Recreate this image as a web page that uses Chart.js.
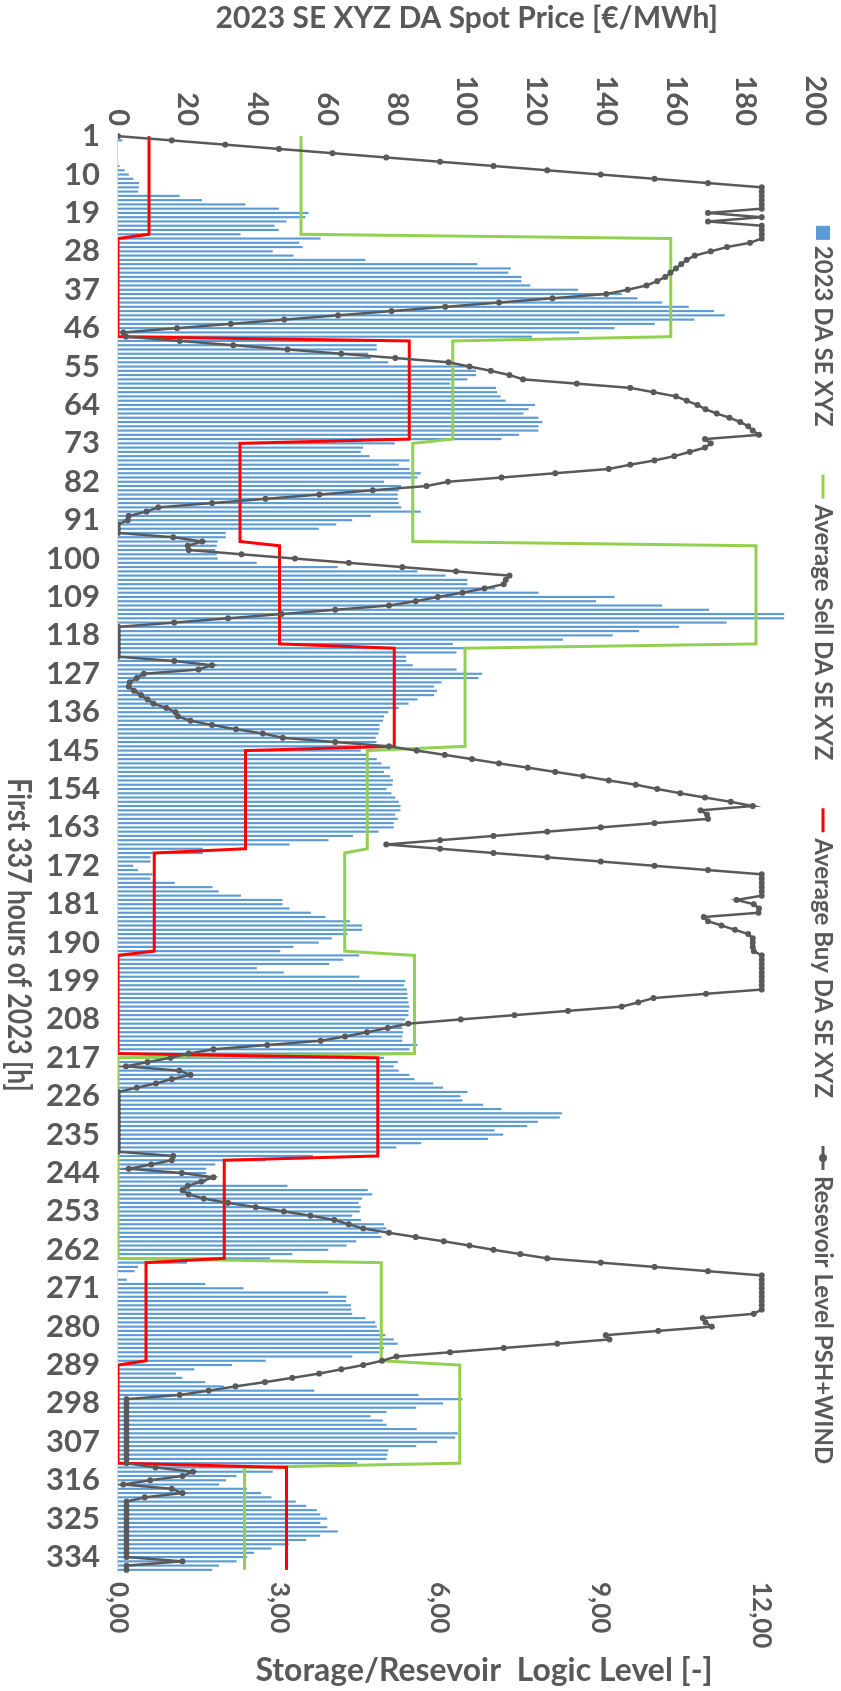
<!DOCTYPE html>
<html>
<head>
<meta charset="utf-8">
<title>2023 SE XYZ DA spot price and reservoir level</title>
<script src="https://cdn.jsdelivr.net/npm/chart.js@4.4.1/dist/chart.umd.min.js"></script>
<style>
  html, body { margin: 0; padding: 0; background: #fff; overflow: hidden; width: 841px; height: 1691px; }
  /* the chart is laid out landscape and turned a quarter clockwise */
  #wrap { position: absolute; left: 0; top: 0; width: 1691px; height: 841px;
          transform-origin: 0 0; transform: translate(841px, 0) rotate(90deg); }
</style>
</head>
<body>
<div id="wrap"><canvas id="chart" width="1691" height="841"></canvas></div>
<script>
const hours = [];
for (let i = 1; i <= 337; i++) hours.push(String(i));

// hourly DA spot price, EUR/MWh
const spotPrice = [
  0, 1.2, 0, 0, 0, 0, 0, 0.4, 1.9, 3.1,
  4.4, 6.0, 6.0, 5.8, 17.7, 24.1, 36.6, 46.2, 54.6, 53.8,
  48.3, 44.9, 46.1, 35.1, 58.1, 52.0, 53.0, 44.4, 50.3, 71.0,
  103.0, 112.6, 111.9, 115.7, 115.7, 118.2, 131.9, 144.5, 149.0, 156.1,
  163.7, 170.9, 174.0, 165.3, 153.9, 142.4, 132.3, 118.7, 74.2, 74.2,
  74.2, 71.8, 72.5, 77.5, 100.9, 102.7, 102.7, 100.2, 95.3, 108.4,
  108.7, 109.7, 111.2, 119.6, 117.7, 116.3, 120.6, 121.7, 120.6, 120.6,
  115.0, 110.0, 79.4, 70.3, 69.6, 72.1, 83.6, 80.5, 83.6, 86.8,
  85.9, 76.3, 81.2, 80.5, 80.2, 80.2, 80.5, 81.2, 86.8, 72.5,
  67.2, 62.6, 57.6, 30.9, 30.9, 28.6, 28.3, 27.9, 28.3, 28.6,
  39.8, 63.0, 85.9, 93.9, 100.2, 100.2, 108.2, 120.6, 142.4, 137.1,
  156.0, 169.5, 191.1, 191.1, 174.5, 160.9, 149.4, 141.9, 127.6, 96.0,
  101.4, 97.1, 82.7, 82.7, 84.5, 97.1, 104.4, 103.4, 92.8, 90.6,
  91.5, 90.6, 85.9, 83.3, 80.5, 77.5, 76.3, 76.0, 75.0, 75.0,
  74.7, 73.9, 74.1, 69.6, 69.6, 71.4, 74.2, 75.6, 78.0, 76.3,
  78.0, 78.9, 78.7, 77.0, 78.4, 79.5, 80.5, 81.0, 81.0, 79.5,
  80.2, 79.1, 79.1, 74.7, 67.4, 60.4, 49.2, 24.3, 24.3, 9.3,
  9.3, 4.4, 5.7, 9.9, 9.3, 16.3, 27.1, 28.9, 35.3, 47.2,
  47.2, 49.2, 55.3, 59.5, 66.5, 70.0, 70.0, 65.8, 61.3, 57.6,
  50.3, 46.5, 69.2, 64.6, 60.6, 39.8, 47.5, 69.2, 82.4, 82.0,
  82.9, 83.0, 83.0, 83.3, 83.6, 83.3, 83.3, 82.4, 81.7, 81.5,
  81.7, 81.5, 81.5, 85.9, 83.6, 83.6, 76.3, 80.2, 79.1, 80.5,
  83.6, 85.0, 90.4, 93.2, 100.2, 98.2, 98.8, 104.7, 110.0, 127.3,
  126.7, 120.4, 117.4, 108.0, 110.5, 106.1, 87.0, 79.8, 75.0, 55.9,
  42.3, 27.9, 25.3, 25.3, 27.1, 25.3, 48.6, 71.6, 72.9, 70.0,
  69.0, 69.6, 69.3, 67.2, 69.7, 76.3, 77.0, 74.7, 75.6, 68.3,
  65.5, 60.3, 50.0, 43.6, 19.8, 5.7, 4.7, 0, 2.5, 25.0,
  36.0, 60.3, 65.5, 65.4, 66.8, 66.9, 67.2, 71.0, 73.8, 74.2,
  75.0, 76.7, 79.1, 80.2, 76.3, 75.0, 67.2, 42.4, 32.7, 21.9,
  16.6, 18.4, 25.0, 30.3, 56.3, 86.2, 98.8, 93.2, 85.5, 77.0,
  72.4, 75.9, 77.0, 85.7, 97.4, 96.7, 91.5, 85.5, 77.5, 77.3,
  77.0, 68.6, 44.4, 44.4, 34, 31, 29, 37, 41, 44,
  51, 54, 57, 58, 60, 58, 60, 63, 58, 54,
  49, 44, 39, 37, 34, 29, 27
];

// daily average sell price, one row per day
const avgSell = [
  52.5,52.5,52.5,52.5,52.5,52.5, 52.5,52.5,52.5,52.5,52.5,52.5, 52.5,52.5,52.5,52.5,52.5,52.5, 52.5,52.5,52.5,52.5,52.5,52.5,
  158.5,158.5,158.5,158.5,158.5,158.5, 158.5,158.5,158.5,158.5,158.5,158.5, 158.5,158.5,158.5,158.5,158.5,158.5, 158.5,158.5,158.5,158.5,158.5,158.5,
  96,96,96,96,96,96, 96,96,96,96,96,96, 96,96,96,96,96,96, 96,96,96,96,96,96,
  84.5,84.5,84.5,84.5,84.5,84.5, 84.5,84.5,84.5,84.5,84.5,84.5, 84.5,84.5,84.5,84.5,84.5,84.5, 84.5,84.5,84.5,84.5,84.5,84.5,
  183,183,183,183,183,183, 183,183,183,183,183,183, 183,183,183,183,183,183, 183,183,183,183,183,183,
  99.5,99.5,99.5,99.5,99.5,99.5, 99.5,99.5,99.5,99.5,99.5,99.5, 99.5,99.5,99.5,99.5,99.5,99.5, 99.5,99.5,99.5,99.5,99.5,99.5,
  71.5,71.5,71.5,71.5,71.5,71.5, 71.5,71.5,71.5,71.5,71.5,71.5, 71.5,71.5,71.5,71.5,71.5,71.5, 71.5,71.5,71.5,71.5,71.5,71.5,
  65,65,65,65,65,65, 65,65,65,65,65,65, 65,65,65,65,65,65, 65,65,65,65,65,65,
  85,85,85,85,85,85, 85,85,85,85,85,85, 85,85,85,85,85,85, 85,85,85,85,85,85,
  0,0,0,0,0,0, 0,0,0,0,0,0, 0,0,0,0,0,0, 0,0,0,0,0,0,
  0,0,0,0,0,0, 0,0,0,0,0,0, 0,0,0,0,0,0, 0,0,0,0,0,0,
  75.5,75.5,75.5,75.5,75.5,75.5, 75.5,75.5,75.5,75.5,75.5,75.5, 75.5,75.5,75.5,75.5,75.5,75.5, 75.5,75.5,75.5,75.5,75.5,75.5,
  98,98,98,98,98,98, 98,98,98,98,98,98, 98,98,98,98,98,98, 98,98,98,98,98,98,
  36.3,36.3,36.3,36.3,36.3,36.3, 36.3,36.3,36.3,36.3,36.3,36.3, 36.3,36.3,36.3,36.3,36.3,36.3, 36.3,36.3,36.3,36.3,36.3,36.3, 36.3
];

// daily average buy price
const avgBuy = [
  8.9,8.9,8.9,8.9,8.9,8.9, 8.9,8.9,8.9,8.9,8.9,8.9, 8.9,8.9,8.9,8.9,8.9,8.9, 8.9,8.9,8.9,8.9,8.9,8.9,
  0,0,0,0,0,0, 0,0,0,0,0,0, 0,0,0,0,0,0, 0,0,0,0,0,0,
  83.5,83.5,83.5,83.5,83.5,83.5, 83.5,83.5,83.5,83.5,83.5,83.5, 83.5,83.5,83.5,83.5,83.5,83.5, 83.5,83.5,83.5,83.5,83.5,83.5,
  35,35,35,35,35,35, 35,35,35,35,35,35, 35,35,35,35,35,35, 35,35,35,35,35,35,
  46.3,46.3,46.3,46.3,46.3,46.3, 46.3,46.3,46.3,46.3,46.3,46.3, 46.3,46.3,46.3,46.3,46.3,46.3, 46.3,46.3,46.3,46.3,46.3,46.3,
  79.2,79.2,79.2,79.2,79.2,79.2, 79.2,79.2,79.2,79.2,79.2,79.2, 79.2,79.2,79.2,79.2,79.2,79.2, 79.2,79.2,79.2,79.2,79.2,79.2,
  36.6,36.6,36.6,36.6,36.6,36.6, 36.6,36.6,36.6,36.6,36.6,36.6, 36.6,36.6,36.6,36.6,36.6,36.6, 36.6,36.6,36.6,36.6,36.6,36.6,
  10.4,10.4,10.4,10.4,10.4,10.4, 10.4,10.4,10.4,10.4,10.4,10.4, 10.4,10.4,10.4,10.4,10.4,10.4, 10.4,10.4,10.4,10.4,10.4,10.4,
  0,0,0,0,0,0, 0,0,0,0,0,0, 0,0,0,0,0,0, 0,0,0,0,0,0,
  74.5,74.5,74.5,74.5,74.5,74.5, 74.5,74.5,74.5,74.5,74.5,74.5, 74.5,74.5,74.5,74.5,74.5,74.5, 74.5,74.5,74.5,74.5,74.5,74.5,
  30.5,30.5,30.5,30.5,30.5,30.5, 30.5,30.5,30.5,30.5,30.5,30.5, 30.5,30.5,30.5,30.5,30.5,30.5, 30.5,30.5,30.5,30.5,30.5,30.5,
  8,8,8,8,8,8, 8,8,8,8,8,8, 8,8,8,8,8,8, 8,8,8,8,8,8,
  0,0,0,0,0,0, 0,0,0,0,0,0, 0,0,0,0,0,0, 0,0,0,0,0,0,
  48.3,48.3,48.3,48.3,48.3,48.3, 48.3,48.3,48.3,48.3,48.3,48.3, 48.3,48.3,48.3,48.3,48.3,48.3, 48.3,48.3,48.3,48.3,48.3,48.3, 48.3
];

// storage logic level, secondary axis
const reservoir = [
  0, 1, 2, 3, 4, 5, 6, 7, 8, 9,
  10, 11, 12, 12, 12, 12, 12, 12, 11, 12,
  11, 12, 12, 12, 12, 11.78, 11.35, 11.05, 10.75, 10.6,
  10.5, 10.4, 10.3, 10.2, 10.05, 9.85, 9.5, 9.1, 8.1, 7.1,
  6.1, 5.1, 4.1, 3.1, 2.1, 1.1, 0.1, 0.15, 1.15, 2.15,
  3.16, 4.16, 5.17, 6.16, 6.55, 6.95, 7.3, 7.55, 8.55, 9.55,
  9.98, 10.4, 10.6, 10.8, 10.95, 11.16, 11.4, 11.6, 11.75, 11.83,
  11.95, 10.94, 11.05, 10.94, 10.66, 10.37, 10.0, 9.55, 9.15, 8.15,
  7.15, 6.15, 5.75, 4.75, 3.75, 2.75, 1.75, 0.75, 0.53, 0.2,
  0.18, 0, 0, 0, 1.03, 1.57, 1.3, 1.32, 2.3, 3.3,
  4.3, 5.3, 6.3, 7.3, 7.23, 7.19, 6.83, 6.42, 5.96, 5.55,
  5.05, 4.05, 3.05, 2.05, 1.05, 0, 0, 0, 0, 0,
  0, 0, 0, 1.05, 1.75, 1.5, 0.48, 0.35, 0.22, 0.2,
  0.3, 0.43, 0.55, 0.66, 0.9, 1.07, 1.12, 1.35, 1.75, 2.2,
  2.7, 3.07, 4.05, 5.05, 5.57, 6.09, 6.6, 7.1, 7.64, 8.15,
  8.67, 9.15, 9.65, 10.05, 10.48, 10.94, 11.42, 11.83, 10.86, 10.98,
  11.0, 10.0, 9.0, 8.0, 7.0, 6.0, 5.0, 6.0, 7.0, 8.0,
  9.0, 10.0, 11.0, 12, 12, 12, 12, 12, 12, 11.53,
  11.85, 11.95, 11.94, 10.92, 11.0, 11.25, 11.5, 11.75, 11.83, 11.83,
  11.83, 11.85, 12, 12, 12, 12, 12, 12, 12, 12,
  12, 10.96, 9.98, 9.7, 9.39, 8.39, 7.39, 6.39, 5.41, 5.03,
  4.64, 4.23, 3.78, 2.78, 1.78, 1.32, 0.98, 0.55, 0.15, 1.14,
  1.35, 1.0, 0.71, 0.35, 0, 0, 0, 0, 0, 0,
  0, 0, 0, 0, 0, 0, 0, 0, 0, 1.03,
  1.0, 0.62, 0.2, 1.19, 1.78, 1.55, 1.3, 1.2, 1.32, 1.6,
  2.05, 2.57, 3.09, 3.59, 4.03, 4.3, 4.57, 5.05, 5.55, 6.07,
  6.55, 7.0, 7.5, 8.0, 9.0, 10.0, 11.0, 12, 12, 12,
  12, 12, 12, 12, 12, 12, 11.85, 10.9, 10.95, 11.07,
  10.07, 9.09, 9.16, 8.19, 7.19, 6.19, 5.19, 4.92, 4.57, 4.16,
  3.75, 3.25, 2.74, 2.19, 1.69, 1.15, 0.16, 0.16, 0.16, 0.16,
  0.16, 0.16, 0.16, 0.16, 0.16, 0.16, 0.16, 0.16, 0.16, 0.16,
  0.16, 0.16, 0.7, 1.4, 1.2, 0.6, 0.1, 1.0, 1.2, 0.5,
  0.16, 0.16, 0.16, 0.16, 0.16, 0.16, 0.16, 0.16, 0.16, 0.16,
  0.16, 0.16, 0.16, 0.16, 1.2, 0.16, 0.16
];

[['spotPrice', spotPrice], ['avgSell', avgSell], ['avgBuy', avgBuy], ['reservoir', reservoir]].forEach(([n, a]) => {
  if (a.length !== hours.length) throw new Error(n + ' has ' + a.length + ' values');
});

const gray = '#595959';
const fontFamily = 'Lato, "Open Sans", "DejaVu Sans", sans-serif';
Chart.defaults.font.family = fontFamily;

// legend, category title and secondary axis title drawn by hand (Excel style)
const sideText = {
  id: 'sideText',
  afterDraw(chart) {
    const ctx = chart.ctx;
    ctx.save();
    ctx.font = 'bold 24px ' + fontFamily;
    ctx.textBaseline = 'middle';
    const gap = 48;
    const items = chart.data.datasets.map(ds => ({
      ds: ds,
      mw: ds.type === 'bar' ? 14 : 24,
      w: ctx.measureText(ds.label).width
    }));
    let total = 0;
    items.forEach((it, i) => { total += it.mw + 6 + it.w + (i ? gap : 0); });
    let x = 845 - total / 2;
    const y = 18;
    items.forEach(it => {
      const ds = it.ds;
      if (ds.type === 'bar') {
        ctx.fillStyle = ds.backgroundColor;
        ctx.fillRect(x, y - 7, 14, 14);
      } else {
        ctx.strokeStyle = ds.borderColor;
        ctx.lineWidth = 3;
        ctx.beginPath();
        ctx.moveTo(x, y);
        ctx.lineTo(x + it.mw, y);
        ctx.stroke();
        if (ds.pointRadius) {
          ctx.fillStyle = ds.borderColor;
          ctx.beginPath();
          ctx.arc(x + it.mw / 2, y, 4, 0, Math.PI * 2);
          ctx.fill();
        }
      }
      x += it.mw + 6;
      ctx.fillStyle = gray;
      ctx.textAlign = 'left';
      ctx.fillText(ds.label, x, y);
      x += it.w + gap;
    });

    // category title: a little condensed, like the Calibri original
    ctx.save();
    ctx.translate(935, 822);
    ctx.scale(0.8, 1);
    ctx.textAlign = 'center';
    ctx.font = 'bold 33px ' + fontFamily;
    ctx.fillText('First 337 hours of 2023 [h]', 0, 0);
    ctx.restore();

    ctx.translate(chart.width - 20, 357);
    ctx.rotate(-Math.PI / 2);
    ctx.textAlign = 'center';
    ctx.fillStyle = gray;
    ctx.font = 'bold 32px ' + fontFamily;
    ctx.fillText('Storage/Resevoir  Logic Level [-]', 0, 0);
    ctx.restore();
  }
};

new Chart(document.getElementById('chart').getContext('2d'), {
  type: 'bar',
  data: {
    labels: hours,
    datasets: [
      {
        type: 'bar',
        label: '2023 DA SE XYZ',
        data: spotPrice,
        backgroundColor: '#5B9BD5',
        barPercentage: 0.5,
        categoryPercentage: 1,
        yAxisID: 'y',
        order: 4
      },
      {
        type: 'line',
        label: 'Average Sell DA SE XYZ',
        data: avgSell,
        borderColor: '#92D050',
        borderWidth: 3,
        pointRadius: 0,
        tension: 0,
        yAxisID: 'y',
        order: 3
      },
      {
        type: 'line',
        label: 'Average Buy DA SE XYZ',
        data: avgBuy,
        borderColor: '#FF0000',
        borderWidth: 3,
        pointRadius: 0,
        tension: 0,
        yAxisID: 'y',
        order: 2
      },
      {
        type: 'line',
        label: 'Resevoir Level PSH+WIND',
        data: reservoir,
        borderColor: gray,
        borderWidth: 2.5,
        pointRadius: 3,
        pointBackgroundColor: gray,
        pointBorderWidth: 0,
        tension: 0,
        yAxisID: 'y2',
        order: 1
      }
    ]
  },
  options: {
    responsive: false,
    animation: false,
    layout: { padding: { top: 11, left: 0, right: 0, bottom: 0 } },
    plugins: { legend: { display: false }, tooltip: { enabled: false } },
    scales: {
      x: {
        grid: { display: false, drawTicks: false },
        border: { display: true, color: '#d9d9d9', width: 1 },
        ticks: {
          autoSkip: false,
          minRotation: 90,
          maxRotation: 90,
          padding: 18,
          color: gray,
          font: { size: 31, weight: 'bold' },
          callback: function(v, i) { return i % 9 === 0 ? hours[i] : ''; }
        },
        afterFit: function(s) { s.height = 118; }
      },
      y: {
        position: 'left',
        min: 0,
        max: 200,
        grid: { display: false, drawTicks: false },
        border: { display: false },
        ticks: { stepSize: 20, padding: 8, color: gray, font: { size: 29, weight: 'bold' } },
        title: {
          display: true,
          text: '2023 SE XYZ DA Spot Price [€/MWh]',
          color: gray,
          font: { size: 30, weight: 'bold' },
          padding: 0
        },
        afterFit: function(s) { s.width = 134; }
      },
      y2: {
        position: 'right',
        min: 0,
        max: 13,
        grid: { display: false, drawTicks: false },
        border: { display: false },
        ticks: {
          stepSize: 3,
          includeBounds: false,
          padding: 10,
          color: gray,
          font: { size: 26, weight: 'bold' },
          callback: function(v) { return v.toFixed(2).replace('.', ','); }
        },
        afterFit: function(s) { s.width = 119; }
      }
    }
  },
  plugins: [sideText]
});
</script>
</body>
</html>
